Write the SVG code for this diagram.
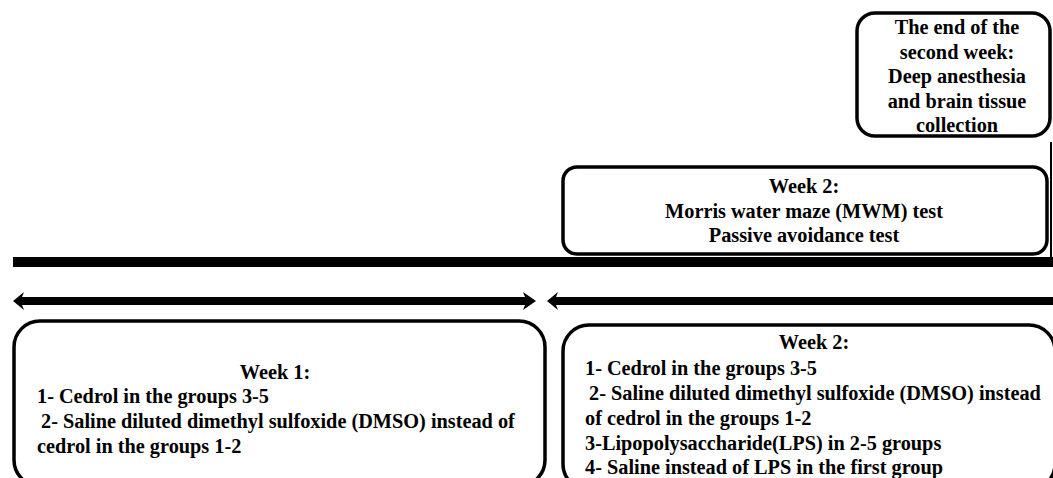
<svg xmlns="http://www.w3.org/2000/svg" width="1053" height="478" viewBox="0 0 1053 478">
<style>
.box{fill:#fff;stroke:#000;stroke-width:3.5}
.t{font-family:"Liberation Serif","Times New Roman",serif;font-weight:bold;font-size:20.3px;fill:#000}
.c{text-anchor:middle}
</style>
<rect width="1053" height="478" fill="#fff"/>
<g id="connectors">
<line x1="1051" y1="142" x2="1051" y2="258" stroke="#000" stroke-width="2"/>
<rect x="13" y="257" width="1042" height="10" fill="#000"/>
<path d="M13,301 L24,292 L22,297 L525,297 L523,292 L536,301 L523,310 L525,305 L22,305 L24,310 Z" fill="#000"/>
<path d="M547,301 L558,292 L556,297 L1055,297 L1055,305 L556,305 L558,310 Z" fill="#000"/>
</g>
<g id="end-week2">
<rect class="box" x="857" y="13" width="193" height="123" rx="18"/>
<text class="t c" x="957" y="34">The end of the</text>
<text class="t c" x="957" y="58.5">second week:</text>
<text class="t c" x="957" y="83">Deep anesthesia</text>
<text class="t c" x="957" y="107.5">and brain tissue</text>
<text class="t c" x="957" y="132">collection</text>
</g>
<g id="week2-tests">
<rect class="box" x="563" y="167" width="484" height="87" rx="14"/>
<text class="t c" x="804" y="193">Week 2:</text>
<text class="t c" x="804" y="217.5">Morris water maze (MWM) test</text>
<text class="t c" x="804" y="242">Passive avoidance test</text>
</g>
<g id="week1">
<rect class="box" x="14" y="321" width="531" height="165" rx="26"/>
<text class="t c" x="275" y="378.5">Week 1:</text>
<text class="t" x="37" y="403.3">1- Cedrol in the groups 3-5</text>
<text class="t" x="41" y="428">2- Saline diluted dimethyl sulfoxide (DMSO) instead of</text>
<text class="t" x="37" y="452.8">cedrol in the groups 1-2</text>
</g>
<g id="week2-treatment">
<rect class="box" x="563" y="325" width="492" height="165" rx="26"/>
<text class="t c" x="814" y="349">Week 2:</text>
<text class="t" x="585" y="374.5">1- Cedrol in the groups 3-5</text>
<text class="t" x="589" y="399.5">2- Saline diluted dimethyl sulfoxide (DMSO) instead</text>
<text class="t" x="585" y="424.5">of cedrol in the groups 1-2</text>
<text class="t" x="585" y="449.5">3-Lipopolysaccharide(LPS) in 2-5 groups</text>
<text class="t" x="585" y="474">4- Saline instead of LPS in the first group</text>
</g>
</svg>
